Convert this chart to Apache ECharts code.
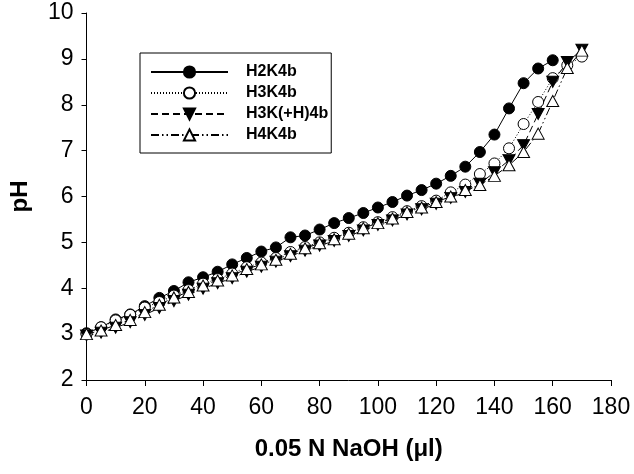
<!DOCTYPE html>
<html>
<head>
<meta charset="utf-8">
<script src="https://cdn.jsdelivr.net/npm/echarts@6/dist/echarts.min.js"></script>
<style>html,body{margin:0;padding:0;background:#fff}#c{width:634px;height:474px}</style>
</head>
<body>
<div id="c"></div>
<script>
const volume = [0,5,10,15,20,25,30,35,40,45,50,55,60,65,70,75,80,85,90,95,100,105,110,115,120,125,130,135,140,145,150,155,160,165,170];
const H2K4b = [3.02,3.15,3.32,3.43,3.61,3.79,3.94,4.13,4.24,4.36,4.52,4.66,4.80,4.89,5.11,5.15,5.28,5.42,5.53,5.64,5.76,5.88,6.02,6.14,6.28,6.45,6.65,6.97,7.35,7.92,8.47,8.79,8.97];
const H3K4b = [3.0,3.15,3.30,3.42,3.58,3.70,3.84,3.96,4.10,4.20,4.32,4.46,4.56,4.66,4.79,4.90,5.00,5.10,5.21,5.33,5.44,5.55,5.68,5.79,5.91,6.09,6.26,6.49,6.72,7.05,7.58,8.06,8.58,8.86,9.05];
const H3KH4b = [2.97,3.03,3.14,3.26,3.42,3.57,3.72,3.86,3.99,4.11,4.22,4.36,4.47,4.58,4.70,4.82,4.93,5.03,5.14,5.26,5.38,5.48,5.61,5.72,5.84,5.97,6.10,6.28,6.53,6.79,7.12,7.80,8.50,8.93,9.20];
const H4K4b = [3.0,3.08,3.20,3.31,3.48,3.64,3.80,3.92,4.06,4.17,4.28,4.42,4.52,4.62,4.75,4.87,4.98,5.07,5.19,5.31,5.42,5.52,5.66,5.76,5.88,6.00,6.14,6.25,6.45,6.68,6.97,7.37,8.08,8.80,9.18];
const seriesNames = ['H2K4b','H3K4b','H3K(+H)4b','H4K4b'];
const xTicks = [0,20,40,60,80,100,120,140,160,180];
const yTicks = [2,3,4,5,6,7,8,9,10];

const FONT = 'Liberation Sans, Arial, sans-serif';
function pairs(ys){ return ys.map((y,i)=>[volume[i], y]); }
const downTri = 'path://M0,0L10,0L5,9Z';

const chart = echarts.init(document.getElementById('c'), null, {renderer:'canvas'});
chart.setOption({
  backgroundColor:'#fff',
  animation:false,
  grid:{left:86.5, right:23, top:13, bottom:94, containLabel:false},
  legend:{
    orient:'vertical', left:140, top:53,
    data: seriesNames,
    itemWidth:77, itemHeight:14, itemGap:5,
    padding:[11,3,10,10],
    borderColor:'#000', borderWidth:1, backgroundColor:'#fff',
    textStyle:{fontFamily:FONT, fontWeight:'bold', fontSize:16, lineHeight:14, color:'#000', padding:[0,0,0,13]}
  },
  xAxis:{
    type:'value', min:xTicks[0], max:xTicks[xTicks.length-1], interval:20,
    name:'0.05 N NaOH (\u03bcl)', nameLocation:'middle', nameGap:57,
    nameTextStyle:{fontFamily:FONT, fontWeight:'bold', fontSize:24, color:'#000'},
    axisLine:{show:true, onZero:false, lineStyle:{color:'#000', width:1}},
    axisTick:{show:true, length:6, inside:false, lineStyle:{color:'#000'}},
    axisLabel:{fontFamily:FONT, fontSize:23, color:'#000', margin:16},
    splitLine:{show:false}
  },
  yAxis:{
    type:'value', min:yTicks[0], max:yTicks[yTicks.length-1], interval:1,
    name:'pH', nameLocation:'middle', nameGap:54, nameRotate:90,
    nameTextStyle:{fontFamily:FONT, fontWeight:'bold', fontSize:24, color:'#000'},
    axisLine:{show:true, onZero:false, lineStyle:{color:'#000', width:1}},
    axisTick:{show:true, length:5, lineStyle:{color:'#000'}},
    axisLabel:{fontFamily:FONT, fontSize:23, color:'#000', margin:13},
    splitLine:{show:false}
  },
  series:[
    {name:seriesNames[0], type:'line', data:pairs(H2K4b), symbol:'circle', symbolSize:11,
     itemStyle:{color:'#000', borderColor:'#000', borderWidth:1},
     lineStyle:{color:'#000', width:1, type:'solid'}},
    {name:seriesNames[1], type:'line', data:pairs(H3K4b), symbol:'circle', symbolSize:11,
     itemStyle:{color:'#fff', borderColor:'#000', borderWidth:1},
     lineStyle:{color:'#000', width:1, type:[1,2]}},
    {name:seriesNames[2], type:'line', data:pairs(H3KH4b), symbol:downTri, symbolSize:[12,11],
     itemStyle:{color:'#000', borderColor:'#000', borderWidth:1},
     lineStyle:{color:'#000', width:1, type:[7,4]}},
    {name:seriesNames[3], type:'line', data:pairs(H4K4b), symbol:'triangle', symbolSize:[12,11],
     itemStyle:{color:'#fff', borderColor:'#000', borderWidth:1},
     lineStyle:{color:'#000', width:1, type:[8,3,1.5,3,1.5,3]}}
  ]
});
</script>
</body>
</html>
